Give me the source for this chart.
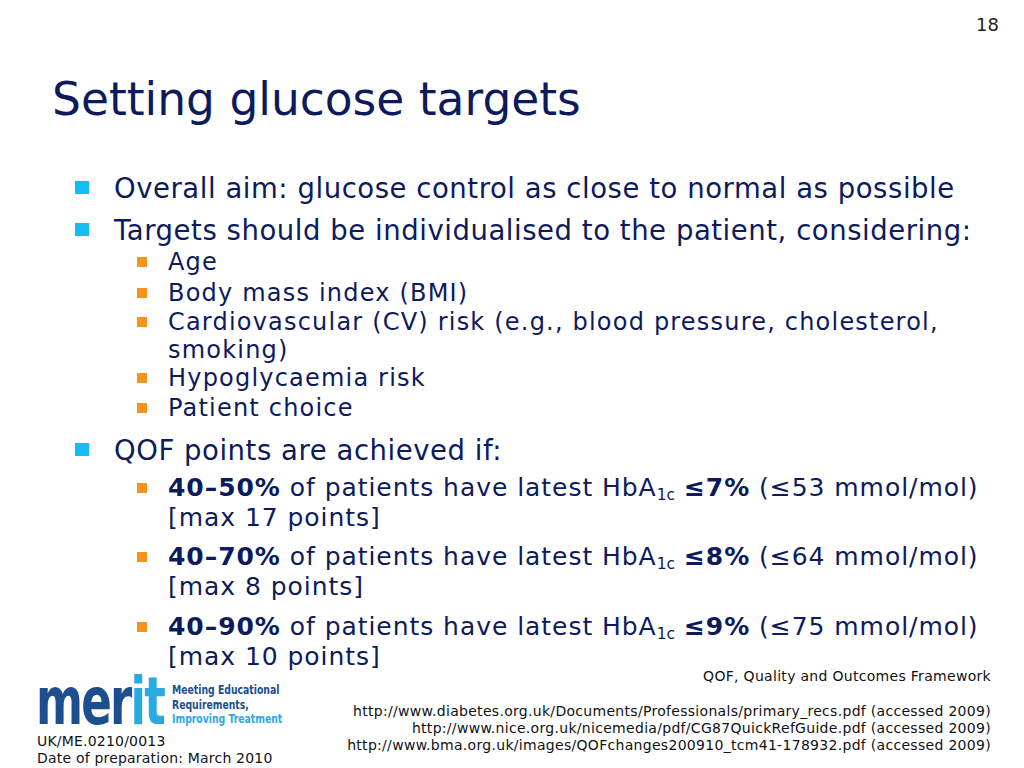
<!DOCTYPE html>
<html>
<head>
<meta charset="utf-8">
<script src="https://cdn.jsdelivr.net/npm/chart.js@4"></script>
<style>
  html, body { margin: 0; padding: 0; background: #fff; }
  #slide { position: relative; width: 1024px; height: 768px; overflow: hidden;
    font-family: "DejaVu Sans", Verdana, sans-serif; color: #0d1b5c; }
  .ln { position: absolute; white-space: nowrap; }
  .b1 { position: absolute; width: 14px; height: 13px; background: #12bdf2; }
  .b2 { position: absolute; width: 10px; height: 10px; background: #f7941d; }
  sub { font-size: 0.62em; vertical-align: -0.25em; line-height: 0; letter-spacing: 0; }
  .foot { position: absolute; right: 33px; font-size: 14px; letter-spacing: 0.3px; white-space: nowrap; color: #111; }
</style>
</head>
<body>
<div id="slide"></div>
<script>
  const pageNumber = '18';
  const title = 'Setting glucose targets';

  // [level, center y, html text, show bullet]
  const bulletLines = [
    [1, 188, 'Overall aim: glucose control as close to normal as possible', true],
    [1, 230, 'Targets should be individualised to the patient, considering:', true],
    [2, 262, 'Age', true],
    [2, 293, 'Body mass index (BMI)', true],
    [2, 322, 'Cardiovascular (CV) risk (e.g., blood pressure, cholesterol,', true],
    [2, 350, 'smoking)', false],
    [2, 378, 'Hypoglycaemia risk', true],
    [2, 408, 'Patient choice', true],
    [1, 450, 'QOF points are achieved if:', true],
    [3, 488, '<b>40–50%</b> of patients have latest HbA<sub>1c</sub> <b>≤7%</b> (≤53 mmol/mol)', true],
    [3, 518, '[max 17 points]', false],
    [3, 557, '<b>40–70%</b> of patients have latest HbA<sub>1c</sub> <b>≤8%</b> (≤64 mmol/mol)', true],
    [3, 587, '[max 8 points]', false],
    [3, 627, '<b>40–90%</b> of patients have latest HbA<sub>1c</sub> <b>≤9%</b> (≤75 mmol/mol)', true],
    [3, 657, '[max 10 points]', false]
  ];

  const footnotes = [
    [676, 'QOF, Quality and Outcomes Framework'],
    [711, 'http://www.diabetes.org.uk/Documents/Professionals/primary_recs.pdf (accessed 2009)'],
    [728, 'http://www.nice.org.uk/nicemedia/pdf/CG87QuickRefGuide.pdf (accessed 2009)'],
    [745, 'http://www.bma.org.uk/images/QOFchanges200910_tcm41-178932.pdf (accessed 2009)']
  ];

  const docCodes = ['UK/ME.0210/0013', 'Date of preparation: March 2010'];
  const logoTag = ['Meeting Educational', 'Requirements,', 'Improving Treatment'];

  const slide = document.getElementById('slide');
  function add(html, css, cls) {
    const d = document.createElement('div');
    d.className = cls || 'ln';
    d.innerHTML = html;
    Object.assign(d.style, css);
    slide.appendChild(d);
    return d;
  }

  add(pageNumber, { right: '25px', top: '14px', fontSize: '18px', color: '#222' });
  add(title, { left: '52px', top: '72px', fontSize: '45.5px', lineHeight: '56px' });

  bulletLines.forEach(([lvl, y, html, bullet]) => {
    if (lvl === 1) {
      if (bullet) add('', { left: '75px', top: (y - 7) + 'px' }, 'b1');
      add(html, { left: '114px', top: (y - 17) + 'px', fontSize: '27.5px', lineHeight: '34px', letterSpacing: '0.55px' });
    } else {
      const fs = lvl === 2 ? 24 : 25;
      const ls = lvl === 2 ? 1.2 : 0.95;
      if (bullet) add('', { left: '137px', top: (y - 5) + 'px' }, 'b2');
      add(html, { left: '168px', top: (y - 12) + 'px', fontSize: fs + 'px', lineHeight: '24px', letterSpacing: ls + 'px' });
    }
  });

  footnotes.forEach(([y, t]) => {
    add(t, { top: (y - 9) + 'px', lineHeight: '18px' }, 'foot');
  });

  docCodes.forEach((t, i) => {
    add(t, { left: '37px', top: (733 + i * 17) + 'px', fontSize: '14px', lineHeight: '17px',
      letterSpacing: '0.2px', color: '#111' });
  });

  // logo: word mark squeezed into its box
  const mark = add('<span style="color:#1b4f8e">mer</span><span style="color:#29abe2">it</span>',
    { left: '36px', top: '0px', fontSize: '56px', lineHeight: '46px', fontWeight: 'bold',
      fontFamily: '"DejaVu Sans Condensed", "DejaVu Sans", sans-serif', letterSpacing: '-2px' });
  const mw = mark.getBoundingClientRect().width;
  mark.style.transformOrigin = 'top left';
  mark.style.transform = 'scale(' + (128 / mw) + ', 1.18)';
  mark.style.top = '674px';

  logoTag.forEach((t, i) => {
    add(t, { left: '172px', top: (683 + i * 14.5) + 'px', fontSize: '12px', lineHeight: '14px', fontWeight: 'bold',
      fontFamily: '"DejaVu Sans Condensed", "DejaVu Sans", sans-serif',
      color: i === 2 ? '#29abe2' : '#1b4f8e', transform: 'scaleX(0.86)', transformOrigin: 'left center' });
  });
</script>
</body>
</html>
